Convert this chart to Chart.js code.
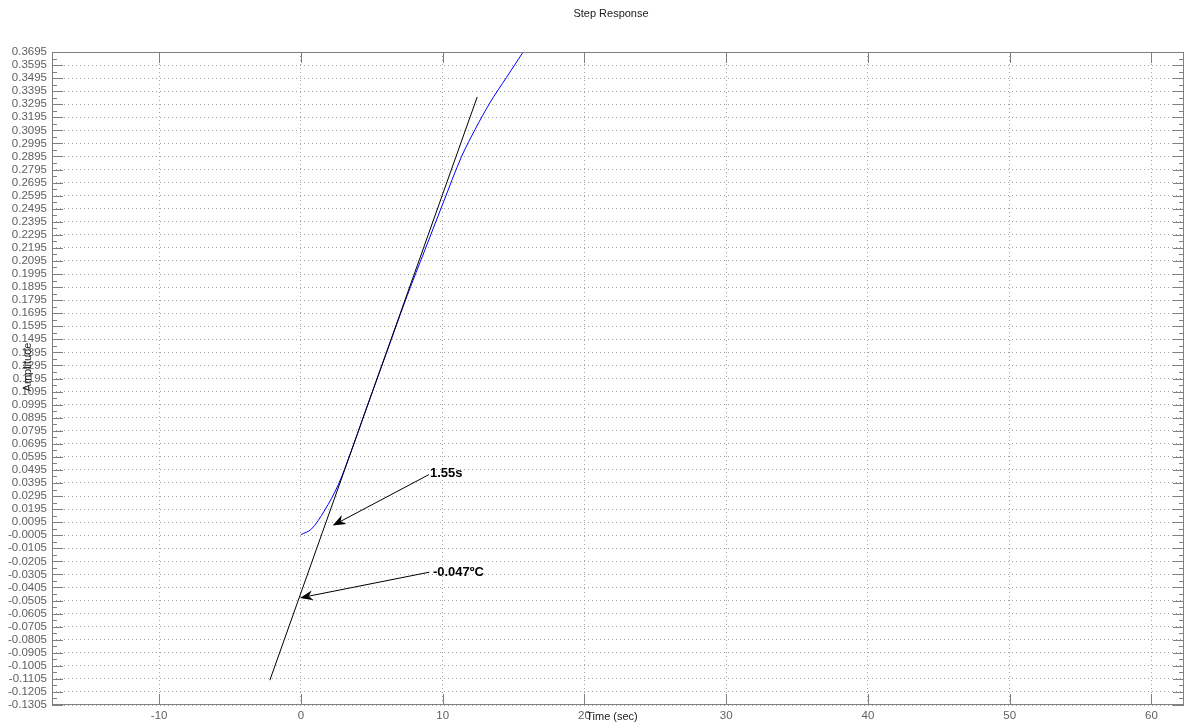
<!DOCTYPE html>
<html>
<head>
<meta charset="utf-8">
<title>Step Response</title>
<script src="https://cdn.jsdelivr.net/npm/chart.js@4/dist/chart.umd.min.js"></script>
<style>
  body { margin: 0; background: #fff; }
  canvas { display: block; }
</style>
</head>
<body>
<canvas id="stepChart" width="1185" height="724"></canvas>
<script>
// 値
const responseT = [0, 0.75, 1.69, 2.63, 3.58, 4.5, 6, 7.5, 8.75, 10, 11.34, 12.28, 13.33, 14.5, 15.68];
const responseY = [0, 0.0043, 0.0188, 0.038, 0.0648, 0.093, 0.138, 0.183, 0.218, 0.253, 0.2896, 0.310, 0.3305, 0.350, 0.3695];
const tangentT = [-2.19, 12.44];
const tangentY = [-0.1115, 0.3351];

const xTicks = [-10, 0, 10, 20, 30, 40, 50, 60];
const yTicks = [];
for (let i = 0; i <= 50; i++) {
    yTicks.push(Math.round((-0.1305 + i * 0.01) * 10000) / 10000);
}

// 注釈（矢印の始点・終点、ラベル位置）
const annoLabels = ['1.55s', '-0.047ºC'];
const arrowFromT = [9.03, 9.06];
const arrowFromY = [0.0459, -0.0288];
const arrowToT = [2.24, -0.07];
const arrowToY = [0.0069, -0.0485];
const labelT = [9.10, 9.31];
const labelY = [0.0467, -0.0289];

const FONT = '"Liberation Sans", Arial, sans-serif';

function toPoints(xs, ys) {
    return xs.map((x, i) => ({ x: x, y: ys[i] }));
}

function drawArrow(ctx, x1, y1, x2, y2) {
    const ang = Math.atan2(y2 - y1, x2 - x1);
    const len = 13, half = 5, back = 4;
    ctx.beginPath();
    ctx.moveTo(x1, y1);
    ctx.lineTo(x2 - Math.cos(ang) * (len - back), y2 - Math.sin(ang) * (len - back));
    ctx.stroke();
    // vback2 風の矢じり
    const bx = x2 - Math.cos(ang) * len, by = y2 - Math.sin(ang) * len;
    const nx = -Math.sin(ang), ny = Math.cos(ang);
    ctx.beginPath();
    ctx.moveTo(x2, y2);
    ctx.lineTo(bx + nx * half, by + ny * half);
    ctx.lineTo(x2 - Math.cos(ang) * (len - back), y2 - Math.sin(ang) * (len - back));
    ctx.lineTo(bx - nx * half, by - ny * half);
    ctx.closePath();
    ctx.fill();
}

const matlabDecor = {
    id: 'matlabDecor',
    afterDatasetsDraw(chart) {
        const ctx = chart.ctx;
        const a = chart.chartArea;
        const xs = chart.scales.x, ys = chart.scales.y;
        ctx.save();
        // 枠
        ctx.strokeStyle = '#808080';
        ctx.lineWidth = 1;
        ctx.strokeRect(a.left + 0.5, a.top + 0.5, a.right - a.left - 1, a.bottom - a.top - 1);
        // 目盛り（内向き）
        ctx.beginPath();
        yTicks.forEach(v => {
            const py = Math.round(ys.getPixelForValue(v)) + 0.5;
            ctx.moveTo(a.left, py); ctx.lineTo(a.left + 11, py);
            ctx.moveTo(a.right - 11, py); ctx.lineTo(a.right, py);
            const m = v + 0.005;
            if (m < ys.max) {
                const pm = Math.round(ys.getPixelForValue(m)) + 0.5;
                ctx.moveTo(a.left, pm); ctx.lineTo(a.left + 5, pm);
                ctx.moveTo(a.right - 5, pm); ctx.lineTo(a.right, pm);
            }
        });
        xTicks.forEach(v => {
            const px = Math.round(xs.getPixelForValue(v)) + 0.5;
            ctx.moveTo(px, a.bottom); ctx.lineTo(px, a.bottom - 11);
            ctx.moveTo(px, a.top); ctx.lineTo(px, a.top + 11);
        });
        ctx.stroke();

        // 矢印と注釈
        ctx.strokeStyle = '#000';
        ctx.fillStyle = '#000';
        for (let i = 0; i < annoLabels.length; i++) {
            drawArrow(ctx,
                xs.getPixelForValue(arrowFromT[i]), ys.getPixelForValue(arrowFromY[i]),
                xs.getPixelForValue(arrowToT[i]), ys.getPixelForValue(arrowToY[i]));
            ctx.font = 'bold 13px ' + FONT;
            ctx.textAlign = 'left';
            ctx.textBaseline = 'middle';
            ctx.fillText(annoLabels[i], xs.getPixelForValue(labelT[i]), ys.getPixelForValue(labelY[i]));
        }

        // タイトル・軸ラベル
        ctx.fillStyle = '#202020';
        ctx.font = '11px ' + FONT;
        ctx.textAlign = 'center';
        ctx.textBaseline = 'middle';
        ctx.fillText('Step Response', 611, 14);
        ctx.fillText('Time (sec)', 612, 717);
        ctx.translate(27.5, 367);
        ctx.rotate(-Math.PI / 2);
        ctx.fillText('Amplitude', 0, 0);
        ctx.restore();
    }
};

const gridOpts = { color: '#a0a0a0', lineWidth: 1, drawTicks: false };
const tickFont = { family: FONT, size: 11.5 };

new Chart(document.getElementById('stepChart'), {
    type: 'scatter',
    data: {
        datasets: [{
            label: 'tangent',
            data: toPoints(tangentT, tangentY),
            showLine: true,
            borderColor: '#000000',
            borderWidth: 1,
            pointRadius: 0,
            fill: false
        }, {
            label: 'step',
            data: toPoints(responseT, responseY),
            showLine: true,
            borderColor: '#0000ff',
            borderWidth: 1,
            pointRadius: 0,
            tension: 0.3,
            cubicInterpolationMode: 'monotone',
            fill: false
        }]
    },
    options: {
        responsive: false,
        animation: false,
        devicePixelRatio: 1,
        layout: { padding: { top: 52, right: 1, bottom: 0, left: 0 } },
        plugins: {
            legend: { display: false },
            tooltip: { enabled: false }
        },
        scales: {
            x: {
                type: 'linear',
                min: -17.56,
                max: 62.3,
                afterBuildTicks: s => { s.ticks = xTicks.map(v => ({ value: v })); },
                afterFit: s => { s.height = 19; },
                grid: gridOpts,
                border: { display: false, dash: [1, 3] },
                ticks: { autoSkip: false, maxRotation: 0, padding: 4, color: '#606060', font: tickFont }
            },
            y: {
                type: 'linear',
                min: -0.1305,
                max: 0.3695,
                afterBuildTicks: s => { s.ticks = yTicks.map(v => ({ value: v })); },
                afterFit: s => { s.width = 52; },
                grid: gridOpts,
                border: { display: false, dash: [1, 3] },
                ticks: {
                    autoSkip: false,
                    padding: 5,
                    color: '#606060',
                    font: tickFont,
                    callback: v => v.toFixed(4)
                }
            }
        }
    },
    plugins: [matlabDecor]
});
</script>
</body>
</html>
